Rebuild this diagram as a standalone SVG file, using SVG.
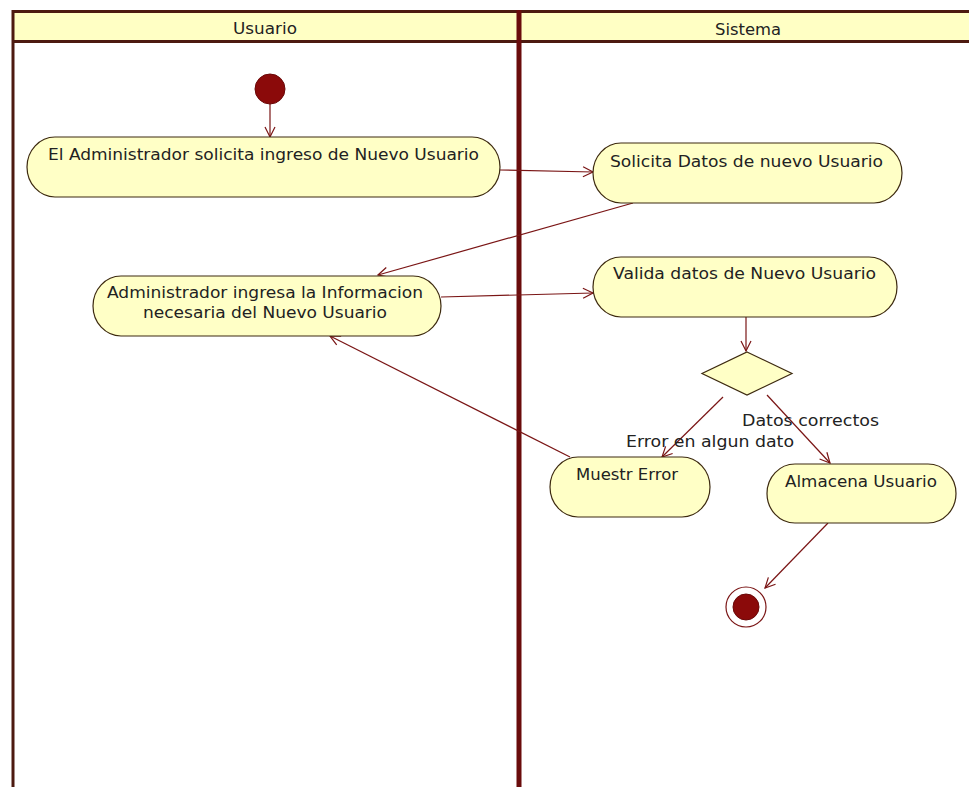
<svg xmlns="http://www.w3.org/2000/svg" width="969" height="787" viewBox="0 0 969 787">
  <defs>
    <marker id="open" markerUnits="userSpaceOnUse" markerWidth="14" markerHeight="14" refX="11" refY="6" orient="auto">
      <path d="M1,1 L11,6 L1,11" fill="none" stroke="#7a1515" stroke-width="1.2"/>
    </marker>
    <style>
      .lane { stroke: #6a0c0c; }
      .head { fill: #ffffc4; }
      .hline { stroke: #4d1a10; stroke-width: 3; }
      .act { fill: #ffffc6; stroke: #3d2a10; stroke-width: 1.2; }
      .t { font-family: "DejaVu Sans", Verdana, sans-serif; font-size: 16px; fill: #222; text-anchor: middle; }
      .ht { font-family: "DejaVu Sans", Verdana, sans-serif; font-size: 15px; fill: #222; text-anchor: middle; }
      .lbl { font-family: "DejaVu Sans", Verdana, sans-serif; font-size: 16px; fill: #222; }
      .c { fill: none; stroke: #7a1515; stroke-width: 1.2; marker-end: url(#open); }
    </style>
  </defs>
  <rect width="969" height="787" fill="#ffffff"/>

  <!-- swimlane frame -->
  <g id="lanes">
    <rect class="head" x="12" y="11" width="957" height="31"/>
    <line class="hline" x1="12" y1="11.5" x2="969" y2="11.5"/>
    <line class="hline" x1="12" y1="41.5" x2="969" y2="41.5"/>
    <line x1="13" y1="10" x2="13" y2="787" stroke="#4d1a10" stroke-width="3"/>
    <line class="lane" x1="519" y1="10" x2="519" y2="787" stroke-width="5"/>
    <text class="ht" x="265" y="34" textLength="64" lengthAdjust="spacingAndGlyphs">Usuario</text>
    <text class="ht" x="748" y="35" textLength="66" lengthAdjust="spacingAndGlyphs">Sistema</text>
  </g>

  <!-- transitions -->
  <g id="connectors">
    <line class="c" x1="270" y1="103" x2="270" y2="137"/>
    <line class="c" x1="500" y1="170" x2="593" y2="172"/>
    <line class="c" x1="633" y1="203" x2="378" y2="275"/>
    <line class="c" x1="441" y1="297" x2="593" y2="293"/>
    <line class="c" x1="746" y1="317" x2="746" y2="351"/>
    <line class="c" x1="723" y1="397" x2="662" y2="457"/>
    <line class="c" x1="767" y1="395" x2="830" y2="463"/>
    <line class="c" x1="570" y1="457" x2="330" y2="336"/>
    <line class="c" x1="828" y1="523" x2="765" y2="588"/>
    <text class="lbl" x="742" y="426" textLength="137" lengthAdjust="spacingAndGlyphs">Datos correctos</text>
    <text class="lbl" x="626" y="447" textLength="168" lengthAdjust="spacingAndGlyphs">Error en algun dato</text>
  </g>

  <g id="start">
    <circle cx="270" cy="89" r="15" fill="#8b0a0a" stroke="#6a0808"/>
  </g>

  <g id="solicita-ingreso">
    <rect class="act" x="27" y="137" width="473" height="60" rx="28" ry="30"/>
    <text class="t" x="263.5" y="160" textLength="431" lengthAdjust="spacingAndGlyphs">El Administrador solicita ingreso de Nuevo Usuario</text>
  </g>

  <g id="solicita-datos">
    <rect class="act" x="593" y="143" width="309" height="60" rx="28" ry="30"/>
    <text class="t" x="746.5" y="167" textLength="273" lengthAdjust="spacingAndGlyphs">Solicita Datos de nuevo Usuario</text>
  </g>

  <g id="ingresa-info">
    <rect class="act" x="93" y="276" width="348" height="60" rx="28" ry="30"/>
    <text class="t" x="265" y="298" textLength="316" lengthAdjust="spacingAndGlyphs">Administrador ingresa la Informacion</text>
    <text class="t" x="265" y="318" textLength="244" lengthAdjust="spacingAndGlyphs">necesaria del Nuevo Usuario</text>
  </g>

  <g id="valida-datos">
    <rect class="act" x="593" y="257" width="304" height="60" rx="28" ry="30"/>
    <text class="t" x="744.5" y="279" textLength="263" lengthAdjust="spacingAndGlyphs">Valida datos de Nuevo Usuario</text>
  </g>

  <g id="decision">
    <polygon class="act" points="747,352 792,373.5 747,395 702,373.5"/>
  </g>

  <g id="muestra-error">
    <rect class="act" x="550" y="457" width="160" height="60" rx="28" ry="30"/>
    <text class="t" x="627" y="480" textLength="102" lengthAdjust="spacingAndGlyphs">Muestr Error</text>
  </g>

  <g id="almacena">
    <rect class="act" x="767" y="464" width="189" height="59" rx="28" ry="29.5"/>
    <text class="t" x="861" y="487" textLength="152" lengthAdjust="spacingAndGlyphs">Almacena Usuario</text>
  </g>

  <g id="end">
    <circle cx="746" cy="607" r="20" fill="#ffffff" stroke="#7a1515" stroke-width="1.2"/>
    <circle cx="746" cy="607" r="13" fill="#8b0a0a" stroke="#6a0808"/>
  </g>
</svg>
